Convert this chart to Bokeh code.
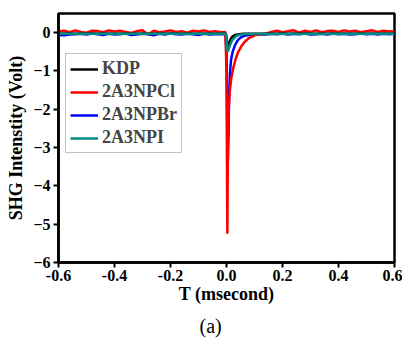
from bokeh.plotting import figure
from bokeh.models import Range1d, Legend, LegendItem, Title
from bokeh.embed import file_html
from bokeh.resources import INLINE

# ---- data ----
base_left_t = [-0.6, -0.58, -0.56, -0.54, -0.52, -0.5, -0.48, -0.46, -0.44, -0.42,
               -0.4, -0.38, -0.36, -0.34, -0.32, -0.3, -0.28, -0.26, -0.24, -0.22,
               -0.2, -0.18, -0.16, -0.14, -0.12, -0.1, -0.08, -0.06, -0.04, -0.02]
base_right_t = [0.14, 0.16, 0.18, 0.2, 0.22, 0.24, 0.26, 0.28, 0.3, 0.32, 0.34, 0.36,
                0.38, 0.4, 0.42, 0.44, 0.46, 0.48, 0.5, 0.52, 0.54, 0.56, 0.58, 0.6]

red_left = [0.03, 0.05, 0.01, 0.06, 0.02, 0.00, 0.05, 0.04, 0.01, 0.06,
            0.03, 0.05, 0.02, -0.01, 0.04, 0.06, -0.05, 0.05, 0.01, 0.03,
            0.06, 0.02, 0.04, 0.00, 0.05, 0.03, 0.06, 0.02, 0.04, 0.01]
red_right = [-0.03, 0.02, 0.05, 0.01, 0.04, 0.06, 0.00, 0.05, 0.02, 0.06, 0.01, 0.04,
             0.05, 0.02, 0.06, 0.03, 0.05, 0.01, 0.04, 0.06, 0.02, 0.05, 0.03, 0.04]
red_spike_t = [-0.004, 0.0, 0.003, 0.005, 0.008, 0.012, 0.018, 0.025, 0.033, 0.042,
               0.052, 0.065, 0.08, 0.1, 0.12]
red_spike_v = [0.02, -1.0, -5.25, -3.0, -2.0, -1.5, -1.15, -0.9, -0.68, -0.5,
               -0.37, -0.24, -0.14, -0.07, -0.04]

blue_left = [-0.06, -0.07, -0.05, -0.04, -0.03, -0.05, -0.02, -0.04, -0.06, -0.03,
             -0.05, -0.04, -0.02, -0.06, -0.05, -0.03, -0.04, -0.07, -0.03, -0.05,
             -0.02, -0.04, -0.05, -0.03, -0.04, -0.06, -0.03, -0.05, -0.04, -0.04]
blue_right = [-0.05, -0.03, -0.04, -0.02, -0.05, -0.03, -0.04, -0.02, -0.05, -0.04,
              -0.03, -0.05, -0.02, -0.04, -0.03, -0.05, -0.04, -0.02, -0.04, -0.03,
              -0.05, -0.03, -0.04, -0.03]
blue_spike_t = [-0.004, 0.0, 0.004, 0.007, 0.009, 0.012, 0.016, 0.022, 0.03, 0.04,
                0.05, 0.065, 0.08, 0.1, 0.12]
blue_spike_v = [-0.04, -0.5, -3.55, -2.7, -1.8, -1.1, -0.72, -0.5, -0.33, -0.2,
                -0.13, -0.08, -0.06, -0.05, -0.04]

teal_t = [-0.6, -0.002, 0.004, 0.008, 0.014, 0.02, 0.03, 0.04, 0.055, 0.07, 0.6]
teal_v = [-0.03, -0.03, -0.5, -0.42, -0.3, -0.2, -0.12, -0.07, -0.045, -0.035, -0.03]

kdp_t = [-0.6, -0.002, 0.004, 0.008, 0.014, 0.02, 0.03, 0.045, 0.06, 0.6]
kdp_v = [-0.03, -0.03, -0.38, -0.3, -0.18, -0.11, -0.06, -0.04, -0.03, -0.03]

series_names = ["KDP", "2A3NPCl", "2A3NPBr", "2A3NPI"]
series_colors = ["#000000", "#ff0000", "#0000ff", "#008b80"]

x_ticks = [-0.6, -0.4, -0.2, 0.0, 0.2, 0.4, 0.6]
y_ticks = [-6, -5, -4, -3, -2, -1, 0]

# ---- figure ----
p = figure(frame_width=336, frame_height=249, output_backend="svg",
           toolbar_location=None, x_range=Range1d(-0.6, 0.6), y_range=Range1d(-6, 0.5),
           min_border_left=58, min_border_right=8, min_border_top=13,
           min_border_bottom=60)
p.grid.visible = False
p.outline_line_color = "black"
p.outline_line_width = 2.5
p.background_fill_color = "white"
p.border_fill_color = "white"

serif = "Liberation Serif"

red_t = base_left_t + red_spike_t + base_right_t
red_v = red_left + red_spike_v + red_right
blue_t = base_left_t + blue_spike_t + base_right_t
blue_v = blue_left + blue_spike_v + blue_right

r_blue = p.line(blue_t, blue_v, line_color=series_colors[2], line_width=2.5)
r_red = p.line(red_t, red_v, line_color=series_colors[1], line_width=2.5)
r_kdp = p.line(kdp_t, kdp_v, line_color=series_colors[0], line_width=2.5)
r_teal = p.line(teal_t, teal_v, line_color=series_colors[3], line_width=2.5)

for ax in (p.xaxis[0], p.yaxis[0]):
    ax.axis_line_width = 2.5
    ax.major_tick_line_width = 2
    ax.minor_tick_line_width = 2
    ax.major_tick_out = 5
    ax.major_tick_in = 0
    ax.minor_tick_out = 3
    ax.minor_tick_in = 0
    ax.major_label_text_font = serif
    ax.major_label_text_font_style = "bold"
    ax.major_label_text_font_size = "16px"
    ax.major_label_text_color = "black"
    ax.axis_label_text_font = serif
    ax.axis_label_text_font_style = "bold"
    ax.axis_label_text_font_size = "18px"
    ax.axis_label_text_color = "black"

p.xaxis.ticker = x_ticks
p.xaxis.ticker.num_minor_ticks = 2
p.yaxis.ticker = y_ticks
p.yaxis.ticker.num_minor_ticks = 2
p.xaxis.major_label_overrides = {v: f"{v:.1f}" for v in x_ticks}
p.xaxis.major_label_standoff = 2
p.yaxis.major_label_standoff = 3
p.xaxis.axis_label = "T (msecond)"
p.yaxis.axis_label = "SHG Intenstity (Volt)"
p.xaxis.axis_label_standoff = 0
p.yaxis.axis_label_standoff = 4

legend = Legend(items=[LegendItem(label=series_names[0], renderers=[r_kdp]),
                       LegendItem(label=series_names[1], renderers=[r_red]),
                       LegendItem(label=series_names[2], renderers=[r_blue]),
                       LegendItem(label=series_names[3], renderers=[r_teal])],
                location=(7, 109))
legend.label_text_font = serif
legend.label_text_font_style = "bold"
legend.label_text_font_size = "18px"
legend.border_line_color = "#888888"
legend.border_line_width = 1
legend.padding = 4
legend.spacing = 2
legend.margin = 0
legend.glyph_width = 28
legend.label_standoff = 4
legend.label_height = 20
legend.glyph_height = 20
p.add_layout(legend)

cap = Title(text="(a)", text_font=serif, text_font_size="20px",
            text_font_style="normal", align="left", offset=141,
            text_color="black", standoff=12)
p.add_layout(cap, "below")

open("out.html", "w").write(file_html(p, INLINE))
